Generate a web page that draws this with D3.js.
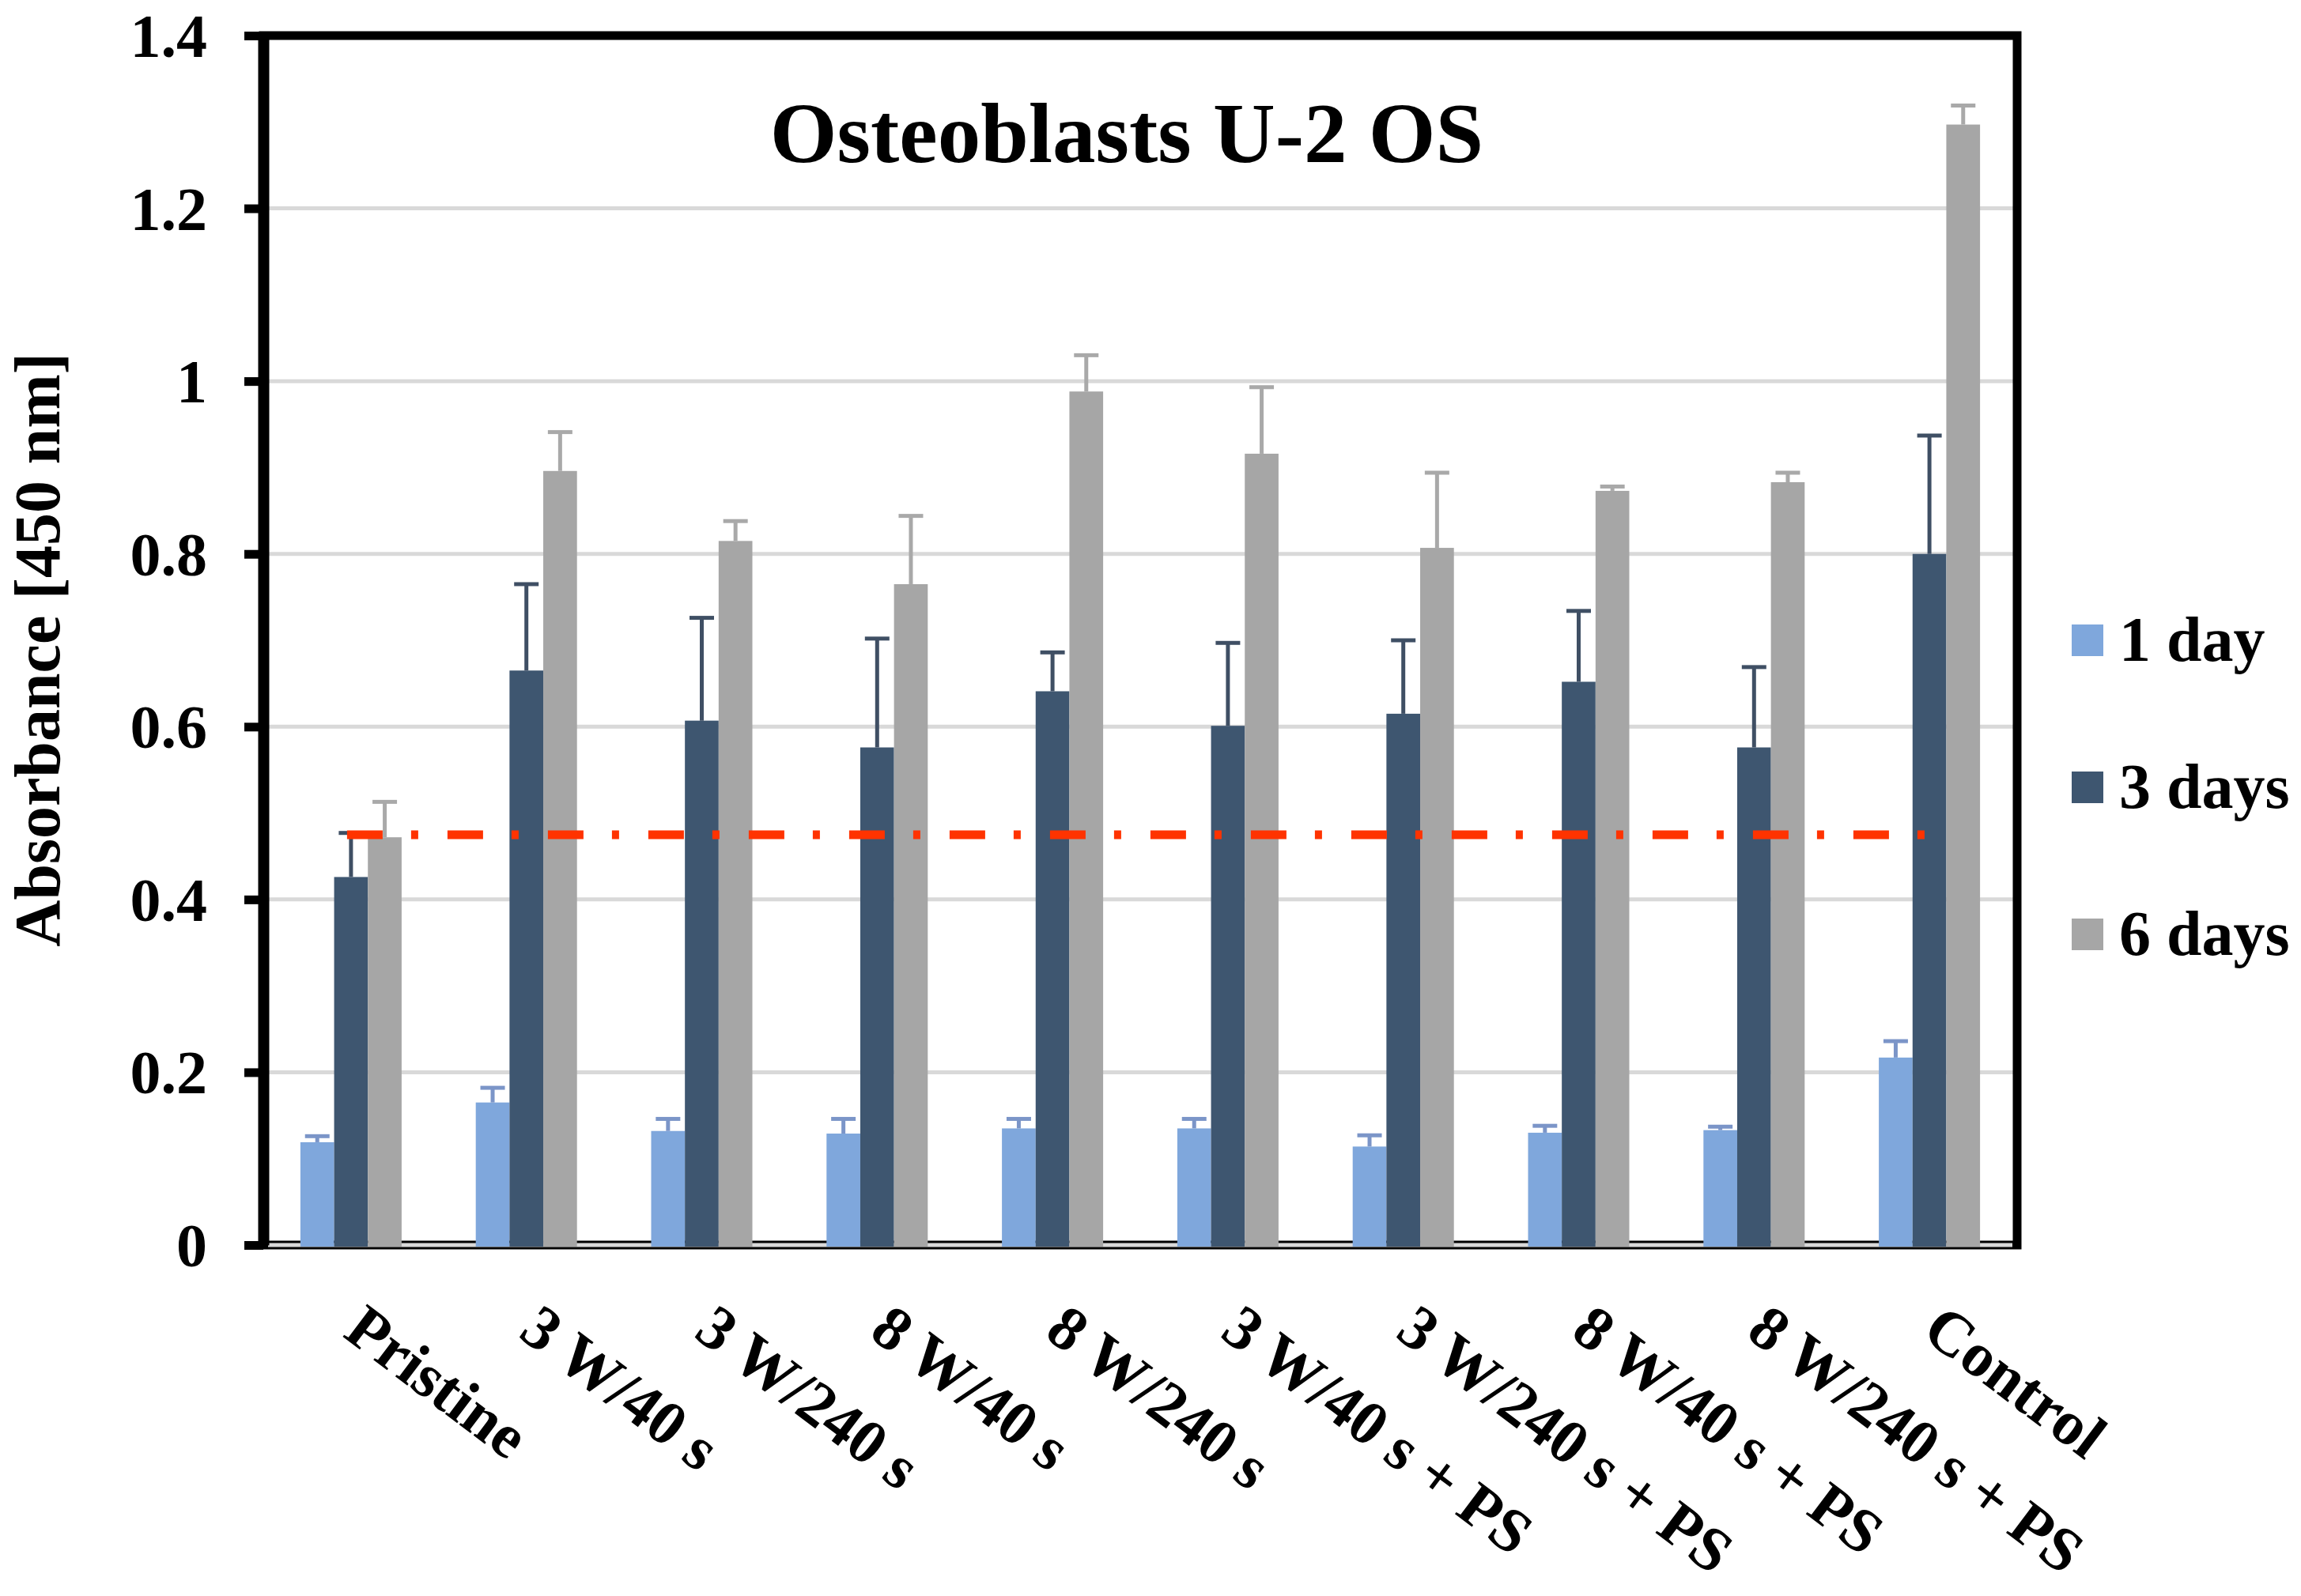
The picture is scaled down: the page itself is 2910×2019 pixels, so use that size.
<!DOCTYPE html>
<html>
<head>
<meta charset="utf-8">
<script src="https://cdn.jsdelivr.net/npm/d3@7/dist/d3.min.js"></script>
<style>
  html, body { margin: 0; padding: 0; background: #ffffff; }
  svg { display: block; }
  text { font-family: "Liberation Serif", "Times New Roman", serif; font-weight: bold; fill: #000; }
</style>
</head>
<body>
<svg id="chart" width="2910" height="2019"></svg>
<script>
// ---------- data ----------
const categories = ["Pristine", "3 W/40 s", "3 W/240 s", "8 W/40 s", "8 W/240 s",
  "3 W/40 s + PS", "3 W/240 s + PS", "8 W/40 s + PS", "8 W/240 s + PS", "Control"];
const seriesNames = ["1 day", "3 days", "6 days"];
const day1 = [0.119, 0.165, 0.132, 0.129, 0.135, 0.135, 0.114, 0.130, 0.133, 0.217];
const day1Err = [0.007, 0.017, 0.014, 0.017, 0.011, 0.011, 0.013, 0.008, 0.004, 0.019];
const day3 = [0.426, 0.665, 0.607, 0.576, 0.641, 0.601, 0.615, 0.652, 0.576, 0.800];
const day3Err = [0.051, 0.100, 0.119, 0.126, 0.045, 0.096, 0.085, 0.082, 0.093, 0.137];
const day6 = [0.472, 0.896, 0.815, 0.765, 0.988, 0.916, 0.807, 0.873, 0.883, 1.297];
const day6Err = [0.041, 0.045, 0.023, 0.079, 0.042, 0.077, 0.087, 0.005, 0.011, 0.022];
const yTickValues = [0, 0.2, 0.4, 0.6, 0.8, 1, 1.2, 1.4];
const yTickLabels = ["0", "0.2", "0.4", "0.6", "0.8", "1", "1.2", "1.4"];
const referenceLevel = 0.475;
const titleText = "Osteoblasts U-2 OS";
const yAxisTitle = "Absorbance [450 nm]";

// ---------- styles ----------
const barColors = ["#7fa7dc", "#3e5670", "#a6a6a6"];
const errColors = ["#7b95c8", "#3f4f64", "#a9a9a9"];

const values = [day1, day3, day6];
const errors = [day1Err, day3Err, day6Err];

// ---------- layout ----------
const plotL = 333, plotR = 2551, plotT = 45, plotB = 1575;
const svg = d3.select("#chart");
svg.append("rect").attr("width", 2910).attr("height", 2019).attr("fill", "#fff");

const x = d3.scaleBand().domain(categories).range([plotL, plotR]).paddingInner(0).paddingOuter(0);
const groupW = 128;
const x1 = d3.scaleBand().domain(seriesNames).range([-groupW / 2, groupW / 2]).padding(0);
const y = d3.scaleLinear().domain([0, 1.4]).range([plotB, plotT]);

// gridlines
svg.append("g").selectAll("line").data(yTickValues.filter(v => v > 0 && v < 1.4))
  .join("line")
  .attr("x1", plotL).attr("x2", plotR)
  .attr("y1", d => y(d)).attr("y2", d => y(d))
  .attr("stroke", "#d9d9d9").attr("stroke-width", 5);

// frame
svg.append("rect")
  .attr("x", plotL).attr("y", plotT)
  .attr("width", plotR - plotL).attr("height", plotB - plotT)
  .attr("fill", "none").attr("stroke", "#000").attr("stroke-width", 11);

// zero gridline over the bottom axis
svg.append("line")
  .attr("x1", plotL + 6).attr("x2", plotR - 6)
  .attr("y1", y(0)).attr("y2", y(0))
  .attr("stroke", "#d9d9d9").attr("stroke-width", 5);

// bars
const barG = svg.append("g");
seriesNames.forEach((s, si) => {
  barG.append("g").selectAll("rect").data(categories)
    .join("rect")
    .attr("x", (c) => x(c) + x.bandwidth() / 2 + x1(s))
    .attr("width", x1.bandwidth())
    .attr("y", (c, i) => y(values[si][i]))
    .attr("height", (c, i) => y(0) - y(values[si][i]) + 2)
    .attr("fill", barColors[si]);
});

// error bars (upper part)
const capW = 31;
seriesNames.forEach((s, si) => {
  const g = svg.append("g").attr("stroke", errColors[si]).attr("stroke-width", 5);
  categories.forEach((c, i) => {
    const cx = x(c) + x.bandwidth() / 2 + x1(s) + x1.bandwidth() / 2;
    const top = y(values[si][i] + errors[si][i]);
    g.append("line").attr("x1", cx).attr("x2", cx)
      .attr("y1", y(values[si][i])).attr("y2", top);
    g.append("line").attr("x1", cx - capW / 2).attr("x2", cx + capW / 2)
      .attr("y1", top).attr("y2", top);
  });
});

// reference dash-dot line
svg.append("line")
  .attr("x1", x(categories[0]) + x.bandwidth() / 2 - 5)
  .attr("x2", x(categories[categories.length - 1]) + x.bandwidth() / 2)
  .attr("y1", y(referenceLevel)).attr("y2", y(referenceLevel))
  .attr("stroke", "#ff3300").attr("stroke-width", 11)
  .attr("stroke-dasharray", "45,36,9,37");

// y axis
const yAxis = d3.axisLeft(y)
  .tickValues(yTickValues)
  .tickFormat((d, i) => yTickLabels[i])
  .tickSize(24).tickSizeOuter(0).tickPadding(47);
const yg = svg.append("g").attr("transform", `translate(${plotL},0)`).call(yAxis);
yg.select(".domain").attr("stroke", "#000").attr("stroke-width", 14);
yg.selectAll(".tick line").attr("stroke", "#000").attr("stroke-width", 11);
yg.selectAll(".tick text")
  .attr("font-family", "Liberation Serif, Times New Roman, serif")
  .attr("font-weight", "bold").attr("font-size", 78).attr("fill", "#000")
  .attr("dy", "0.34em");

// x axis labels
const xAxis = d3.axisBottom(x).tickSize(0).tickSizeOuter(0);
const xg = svg.append("g").attr("transform", `translate(0,${plotB})`).call(xAxis);
xg.select(".domain").remove();
xg.selectAll(".tick text")
  .attr("font-family", "Liberation Serif, Times New Roman, serif")
  .attr("font-weight", "bold").attr("font-size", 79).attr("fill", "#000")
  .attr("x", 0).attr("y", 0).attr("dy", 0)
  .attr("text-anchor", "start")
  .attr("transform", "translate(-12,115) rotate(37)");

// title
svg.append("text")
  .attr("x", 1425).attr("y", 205)
  .attr("text-anchor", "middle")
  .attr("font-size", 109)
  .text(titleText);

// y-axis title
svg.append("text")
  .attr("transform", "translate(75,822) rotate(-90)")
  .attr("text-anchor", "middle")
  .attr("font-size", 82)
  .text(yAxisTitle);

// legend
const legend = svg.append("g");
seriesNames.forEach((s, si) => {
  const cy = 810 + si * 186;
  legend.append("rect")
    .attr("x", 2620).attr("y", cy - 20)
    .attr("width", 40).attr("height", 40)
    .attr("fill", barColors[si]);
  legend.append("text")
    .attr("x", 2680).attr("y", cy + 26)
    .attr("font-size", 80)
    .text(s);
});
</script>
</body>
</html>
